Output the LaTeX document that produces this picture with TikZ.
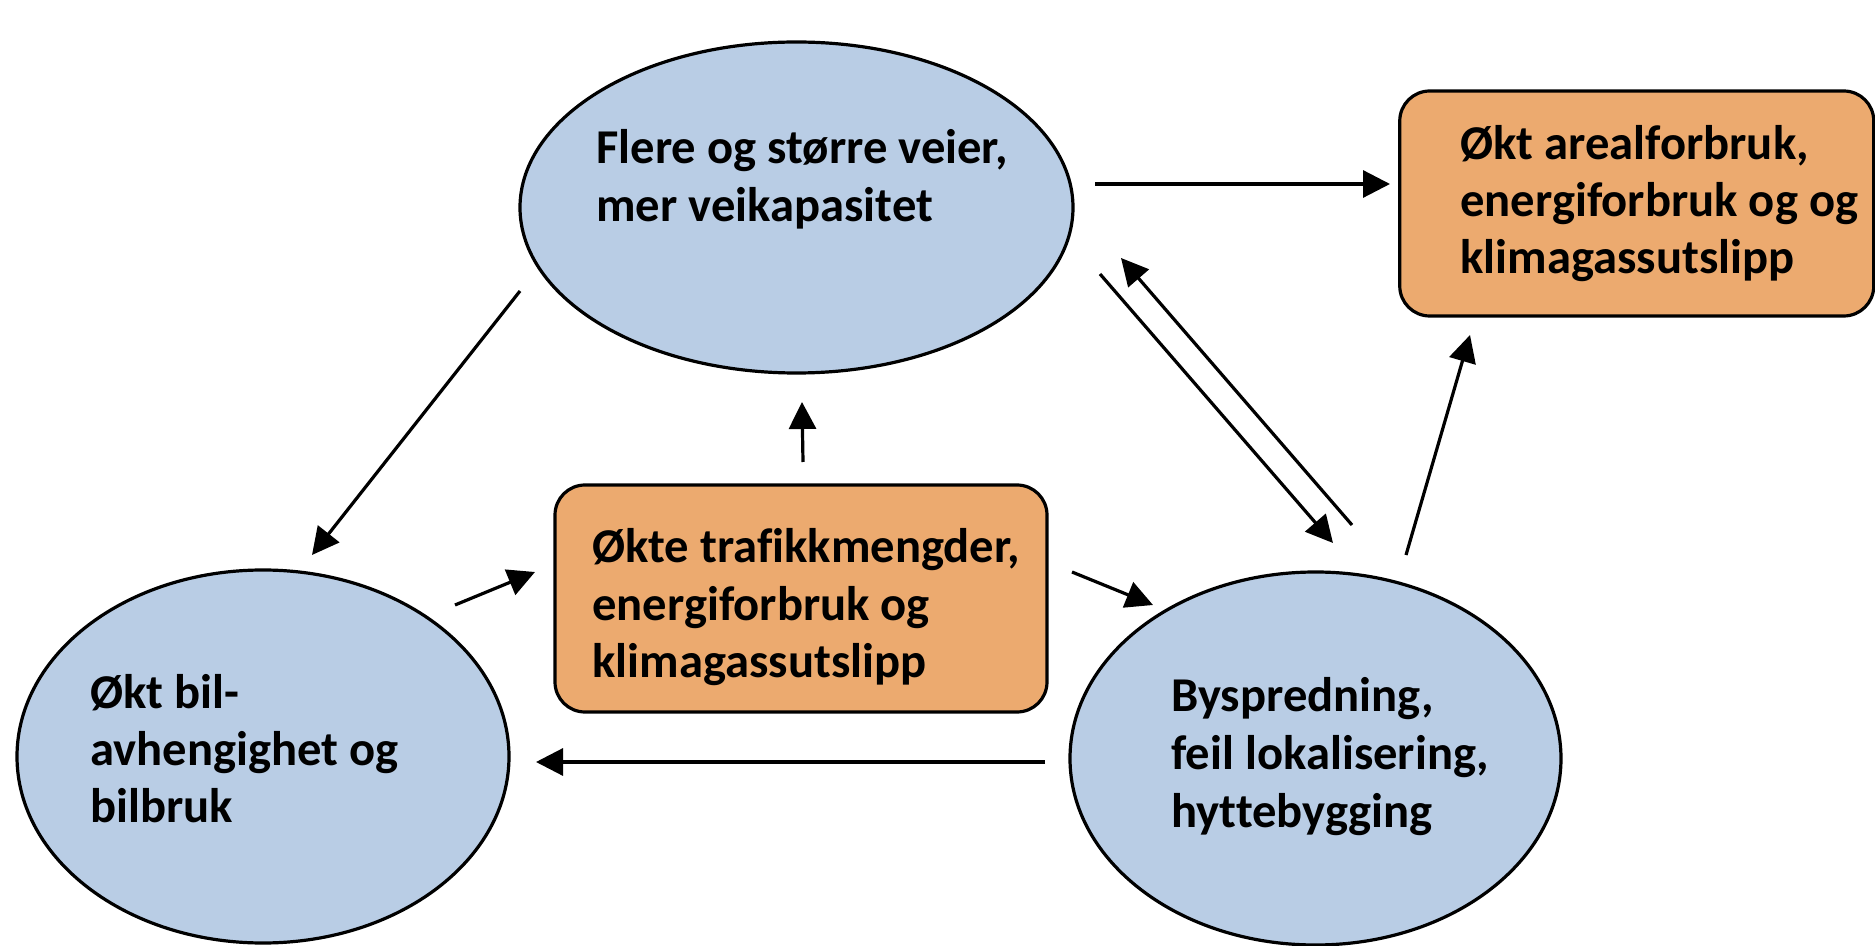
\documentclass[tikz,border=0pt]{standalone}
\usepackage{fontspec}
\setmainfont{Carlito}[Ligatures=NoCommon]
\usetikzlibrary{shapes.geometric,arrows.meta}
\definecolor{cblue}{HTML}{B9CDE5}
\definecolor{corange}{HTML}{ECAA6F}
\tikzset{
  ell/.style={ellipse, draw=black, line width=1.6pt, fill=cblue, inner sep=0pt},
  obox/.style={rectangle, rounded corners=15pt, draw=black, line width=1.6pt, fill=corange, inner sep=0pt},
  lbl/.style={anchor=base west, inner sep=0pt, font=\fontsize{24.3}{29}\selectfont\bfseries},
  conn/.style={line width=1.6pt, -{Triangle[length=13.5pt,width=13.5pt]}}
}
\begin{document}
\begin{tikzpicture}[x=0.5pt,y=-0.5pt]
\useasboundingbox (0,0) rectangle (1875,946);
% shapes
\node[ell, minimum width=276.5pt, minimum height=165.5pt] (top) at (796.5,207.5) {};
\node[ell, minimum width=246pt, minimum height=186.5pt] (left) at (263,756.5) {};
\node[ell, minimum width=245.5pt, minimum height=186.5pt] (right) at (1315.5,758.5) {};
\node[obox, minimum width=246pt, minimum height=113.5pt] (mid) at (801,598.5) {};
\node[obox, minimum width=237pt, minimum height=112.5pt] (res) at (1636.75,203.5) {};
% texts
\node[lbl] (top1) at (596,164) {Flere og større veier,};
\node[lbl] (top2) at (596,222) {mer veikapasitet};
\node[lbl] (left1) at (90,708) {Økt bil-};
\node[lbl] (left2) at (90,765) {avhengighet og};
\node[lbl] (left3) at (90,822) {bilbruk};
\node[lbl] (right1) at (1171,711) {Byspredning,};
\node[lbl] (right2) at (1171,769) {feil lokalisering,};
\node[lbl] (right3) at (1171,827) {hyttebygging};
\node[lbl] (mid1) at (592,563) {Økte trafikkmengder,};
\node[lbl] (mid2) at (592,620) {energiforbruk og};
\node[lbl] (mid3) at (592,677) {klimagassutslipp};
\node[lbl] (res1) at (1460,160) {Økt arealforbruk,};
\node[lbl] (res2) at (1460,217) {energiforbruk og og};
\node[lbl] (res3) at (1460,274) {klimagassutslipp};
% connector end points
\coordinate (a1s) at (1095,184); \coordinate (a1e) at (1390,184);
\coordinate (a2s) at (520,291);  \coordinate (a2e) at (312,555);
\coordinate (a3s) at (803,462);  \coordinate (a3e) at (802,402);
\coordinate (a4s) at (455,605);  \coordinate (a4e) at (535,572);
\coordinate (a5s) at (1072,572); \coordinate (a5e) at (1153,605);
\coordinate (a6s) at (1045,762); \coordinate (a6e) at (536,762);
\coordinate (a7s) at (1100,274); \coordinate (a7e) at (1333,543);
\coordinate (a8s) at (1352,525); \coordinate (a8e) at (1121,258);
\coordinate (a9s) at (1406,555); \coordinate (a9e) at (1470,335);
% connectors
\draw[conn] (a1s) -- (a1e);
\draw[conn] (a2s) -- (a2e);
\draw[conn] (a3s) -- (a3e);
\draw[conn] (a4s) -- (a4e);
\draw[conn] (a5s) -- (a5e);
\draw[conn] (a6s) -- (a6e);
\draw[conn] (a7s) -- (a7e);
\draw[conn] (a8s) -- (a8e);
\draw[conn] (a9s) -- (a9e);
\end{tikzpicture}
\end{document}
